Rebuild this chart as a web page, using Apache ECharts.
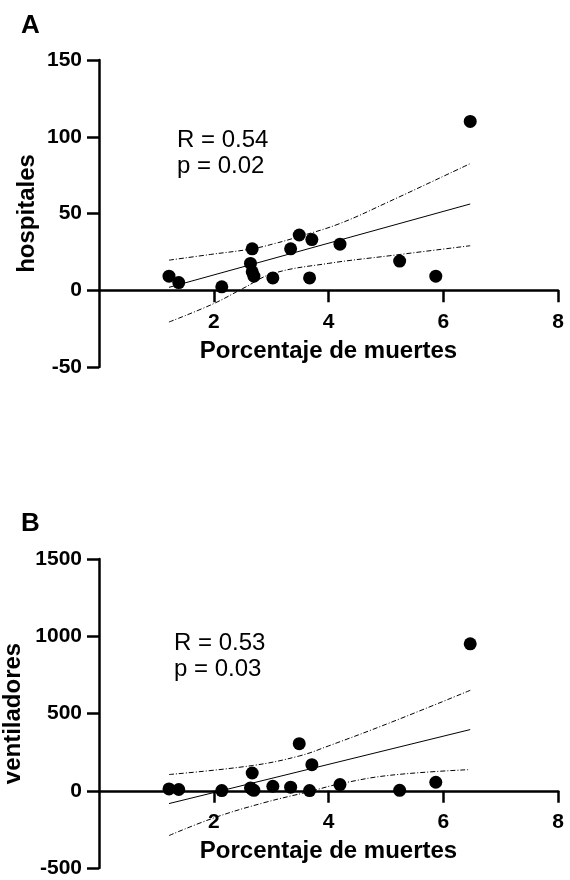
<!DOCTYPE html>
<html>
<head>
<meta charset="utf-8">
<script src="https://cdn.jsdelivr.net/npm/echarts@6/dist/echarts.min.js"></script>
<style>
html,body{margin:0;padding:0;background:#fff;}
#c{width:570px;height:880px;}
</style>
</head>
<body>
<div id="c"></div>
<script>
// Porcentaje de muertes (x) for each point
var pctMuertes = [1.22, 1.39, 2.14, 2.64, 2.67, 2.67, 2.70, 3.03, 3.34, 3.49, 3.67, 3.71, 4.20, 5.24, 5.87, 6.47];
// Panel A: hospitales
var hospitales = [9.2, 5, 2.2, 17.5, 27, 12, 9.2, 8, 27, 36, 8, 33, 30, 19, 9.2, 110];
// Panel B: ventiladores
var ventiladores = [12, 8, 1, 18, 115, 8, 3, 29, 23, 305, 1, 169, 40, 3, 55, 951];

// Regression lines and 95% bands
var fitAx = [1.22, 6.47];
var fitAy = [1.9, 56.2];
var upAx = [1.22, 1.94, 2.67, 3.07, 3.49, 4.2, 5.07, 6.47];
var upAy = [19.6, 23.3, 27, 30.5, 35, 43.5, 58, 82.5];
var loAx = [1.22, 2.0, 2.5, 3.03, 4.0, 5.07, 6.47];
var loAy = [-20.7, -8.7, 1, 10.9, 17.5, 22.5, 29];

var fitBx = [1.22, 6.47];
var fitBy = [-83, 396];
var upBx = [1.22, 2.67, 3.49, 4.0, 5.07, 6.47];
var upBy = [105, 163, 225, 290, 440, 650];
var loBx = [1.22, 2.0, 2.86, 3.67, 4.2, 5.07, 6.47];
var loBy = [-290, -176, -79, -5, 45, 100, 137];

var xTicks = [2, 4, 6, 8];
var yTicksA = [-50, 0, 50, 100, 150];
var yTicksB = [-500, 0, 500, 1000, 1500];

var panelLabels = ['A', 'B'];
var yNames = ['hospitales', 'ventiladores'];
var xName = 'Porcentaje de muertes';
var statsA = ['R = 0.54', 'p = 0.02'];
var statsB = ['R = 0.53', 'p = 0.03'];

function zip(a, b) { return a.map(function (v, i) { return [v, b[i]]; }); }

var FONT = '"Liberation Sans", Arial, Helvetica, sans-serif';
var AXW = 2.5;

var grids = [
  { left: 99, top: 60, width: 459, height: 307, outerBoundsMode: 'none', containLabel: false },
  { left: 99, top: 559, width: 459, height: 309, outerBoundsMode: 'none', containLabel: false }
];
var yTickSets = [yTicksA, yTicksB];
var yNameGaps = [60, 74];

function xAxisCfg(gi) {
  var t = yTickSets[gi];
  var ymin = t[0], ymax = t[t.length - 1];
  // move x axis up from grid bottom to the y = 0 line
  var off = -grids[gi].height * (0 - ymin) / (ymax - ymin);
  return {
    gridIndex: gi, type: 'value', min: 0, max: 8, interval: 2,
    position: 'bottom', offset: off,
    name: xName, nameLocation: 'middle', nameGap: 49, nameMoveOverlap: false,
    nameTextStyle: { fontFamily: FONT, fontWeight: 'bold', fontSize: 24, color: '#000' },
    axisLine: { onZero: false, lineStyle: { color: '#000', width: AXW } },
    axisTick: { show: true, length: 12, lineStyle: { color: '#000', width: AXW } },
    axisLabel: {
      fontFamily: FONT, fontWeight: 'bold', fontSize: 21, color: '#000', margin: 21,
      showMinLabel: false, hideOverlap: false,
      formatter: function (v) { return xTicks.indexOf(v) >= 0 ? String(v) : ''; }
    },
    splitLine: { show: false }
  };
}
function yAxisCfg(gi, ticks, name) {
  return {
    gridIndex: gi, type: 'value', min: ticks[0], max: ticks[ticks.length - 1],
    interval: ticks[1] - ticks[0],
    name: name, nameLocation: 'middle', nameGap: yNameGaps[gi], nameMoveOverlap: false,
    nameTextStyle: { fontFamily: FONT, fontWeight: 'bold', fontSize: 24, color: '#000' },
    axisLine: { show: true, onZero: false, lineStyle: { color: '#000', width: AXW } },
    axisTick: { show: true, length: 12, lineStyle: { color: '#000', width: AXW } },
    axisLabel: {
      fontFamily: FONT, fontWeight: 'bold', fontSize: 21, color: '#000', margin: 17,
      formatter: function (v) { return String(v); }
    },
    splitLine: { show: false }
  };
}
function lineSeries(gi, xs, ys, dashed) {
  return {
    type: 'line', xAxisIndex: gi, yAxisIndex: gi, data: zip(xs, ys),
    showSymbol: false, symbol: 'none', smooth: dashed ? 0.4 : false,
    lineStyle: { color: '#000', width: 1, type: dashed ? [5, 2, 1, 2] : 'solid' },
    z: 2, silent: true
  };
}
function scatterSeries(gi, ys) {
  return {
    type: 'scatter', xAxisIndex: gi, yAxisIndex: gi, data: zip(pctMuertes, ys),
    symbolSize: 13, itemStyle: { color: '#000', opacity: 1 }, z: 3
  };
}

var chart = echarts.init(document.getElementById('c'), null, { renderer: 'canvas' });
chart.setOption({
  animation: false,
  backgroundColor: '#fff',
  title: [
    { text: panelLabels[0], left: 16, top: 8, textStyle: { fontFamily: FONT, fontWeight: 'bold', fontSize: 26, color: '#000' } },
    { text: panelLabels[1], left: 16, top: 506, textStyle: { fontFamily: FONT, fontWeight: 'bold', fontSize: 26, color: '#000' } },
    { text: statsA.join('\n'), left: 172, top: 122, textStyle: { fontFamily: FONT, fontWeight: 'normal', fontSize: 24, lineHeight: 26, color: '#000' } },
    { text: statsB.join('\n'), left: 169, top: 625, textStyle: { fontFamily: FONT, fontWeight: 'normal', fontSize: 24, lineHeight: 26, color: '#000' } }
  ],
  grid: grids,
  xAxis: [xAxisCfg(0), xAxisCfg(1)],
  yAxis: [yAxisCfg(0, yTicksA, yNames[0]), yAxisCfg(1, yTicksB, yNames[1])],
  series: [
    lineSeries(0, fitAx, fitAy, false),
    lineSeries(0, upAx, upAy, true),
    lineSeries(0, loAx, loAy, true),
    scatterSeries(0, hospitales),
    lineSeries(1, fitBx, fitBy, false),
    lineSeries(1, upBx, upBy, true),
    lineSeries(1, loBx, loBy, true),
    scatterSeries(1, ventiladores)
  ]
});
</script>
</body>
</html>
